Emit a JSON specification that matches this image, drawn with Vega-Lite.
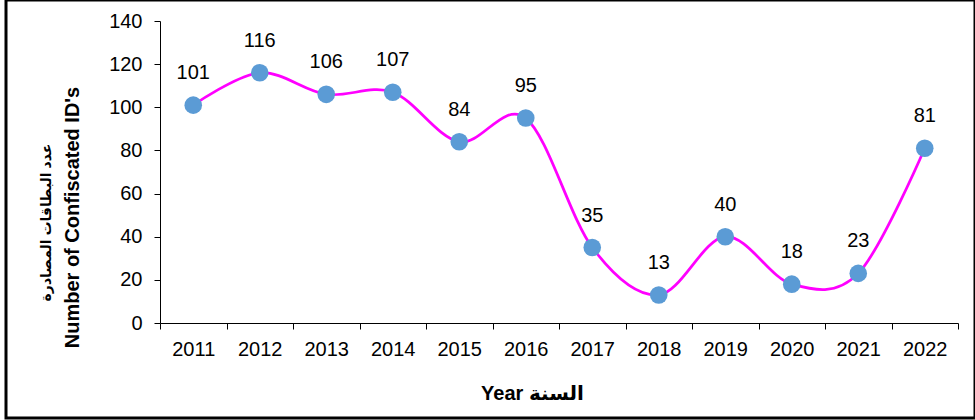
{
  "$schema": "https://vega.github.io/schema/vega-lite/v6.json",
  "width": 969,
  "height": 418,
  "autosize": {"type": "none"},
  "padding": {"left": 6, "top": 0, "right": 0, "bottom": 2},
  "background": "white",
  "config": {
    "view": {"stroke": "black", "strokeWidth": 3},
    "font": "Liberation Sans, Arial, DejaVu Sans, sans-serif"
  },
  "data": {
    "values": [
      {"year": "2011", "value": 101},
      {"year": "2012", "value": 116},
      {"year": "2013", "value": 106},
      {"year": "2014", "value": 107},
      {"year": "2015", "value": 84},
      {"year": "2016", "value": 95},
      {"year": "2017", "value": 35},
      {"year": "2018", "value": 13},
      {"year": "2019", "value": 40},
      {"year": "2020", "value": 18},
      {"year": "2021", "value": 23},
      {"year": "2022", "value": 81}
    ]
  },
  "encoding": {
    "x": {
      "field": "year",
      "type": "ordinal",
      "scale": {"type": "band", "range": [154, 952], "paddingInner": 0, "paddingOuter": 0},
      "axis": {
        "orient": "bottom",
        "offset": -95,
        "tickBand": "extent",
        "labelAngle": 0,
        "domainColor": "black",
        "tickColor": "black",
        "tickSize": 6,
        "labelFontSize": 20,
        "labelColor": "black",
        "labelPadding": 10,
        "title": "Year السنة",
        "titleFontSize": 20,
        "titleFontWeight": "bold",
        "titleColor": "black",
        "titleX": 526,
        "titleY": 70,
        "titleAlign": "center",
        "titleBaseline": "middle"
      }
    }
  },
  "layer": [
    {
      "encoding": {
        "y": {
          "field": "value",
          "type": "quantitative",
          "scale": {"domain": [0, 140], "range": [323, 21], "nice": false, "zero": true},
          "axis": {
            "orient": "left",
            "offset": -154,
            "values": [0, 20, 40, 60, 80, 100, 120, 140],
            "grid": false,
            "domainColor": "black",
            "tickColor": "black",
            "tickSize": 6,
            "labelFontSize": 20,
            "labelColor": "black",
            "labelPadding": 12,
            "title": "Number of Confiscated ID's",
            "titleFontSize": 20,
            "titleFontWeight": "bold",
            "titleColor": "black",
            "titleAngle": -90,
            "titleX": -88,
            "titleY": 217,
            "titleAlign": "center",
            "titleBaseline": "middle"
          }
        }
      },
      "layer": [
        {"mark": {"type": "line", "interpolate": "cardinal", "color": "#FF00FF", "strokeWidth": 2.75}},
        {"mark": {"type": "point", "filled": true, "size": 310, "color": "#5B9BD5", "opacity": 1}}
      ]
    },
    {
      "mark": {"type": "text", "dy": -32, "fontSize": 20, "baseline": "middle", "color": "black"},
      "encoding": {
        "y": {
          "field": "value",
          "type": "quantitative",
          "scale": {"domain": [0, 140], "range": [323, 21], "nice": false, "zero": true},
          "axis": {
            "orient": "left",
            "offset": -154,
            "labels": false,
            "ticks": false,
            "domain": false,
            "grid": false,
            "title": "عدد البطاقات المصادرة",
            "titleFontSize": 14,
            "titleFontWeight": "bold",
            "titleColor": "black",
            "titleAngle": -90,
            "titleX": -114,
            "titleY": 222,
            "titleAlign": "center",
            "titleBaseline": "middle"
          }
        },
        "text": {"field": "value", "type": "quantitative"}
      }
    }
  ],
  "resolve": {"scale": {"y": "independent"}}
}
